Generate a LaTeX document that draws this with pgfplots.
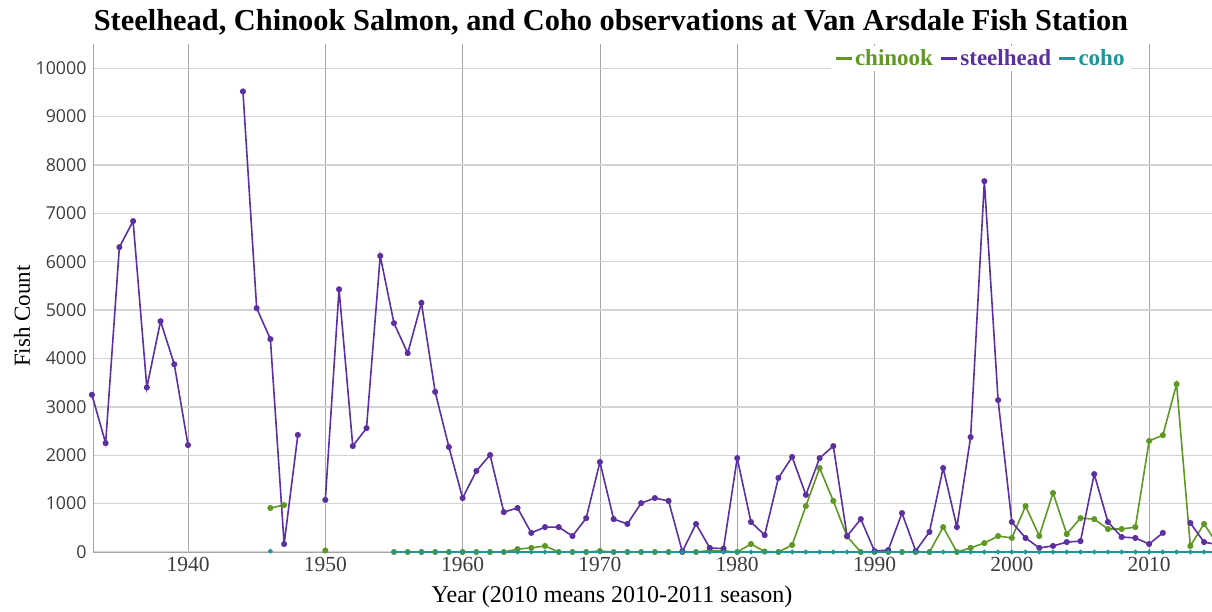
\documentclass[border=0pt]{standalone}
\usepackage{pgfplots}
\pgfplotsset{compat=1.18}
\usepackage{pgfplotstable}
\usepackage{fontspec}
\setmainfont{Liberation Serif}
\newfontfamily\opensans{Open Sans}
\definecolor{chin}{RGB}{96,152,36}
\definecolor{steel}{RGB}{92,48,160}
\definecolor{coho}{RGB}{28,150,150}
\definecolor{gridh}{RGB}{212,212,212}
\definecolor{gridv}{RGB}{165,165,165}
\definecolor{ticktxt}{RGB}{60,60,60}

\pgfplotstableread{
year val
1933 3250
1934 2250
1935 6300
1936 6840
1937 3400
1938 4770
1939 3880
1940 2210
1941 nan
1943 nan
1944 9520
1945 5040
1946 4400
1947 165
1948 2420
1949 nan
1950 1075
1951 5430
1952 2190
1953 2560
1954 6120
1955 4730
1956 4110
1957 5150
1958 3310
1959 2170
1960 1115
1961 1675
1962 2005
1963 825
1964 910
1965 395
1966 515
1967 515
1968 330
1969 700
1970 1860
1971 680
1972 580
1973 1010
1974 1115
1975 1055
1976 10
1977 580
1978 85
1979 70
1980 1940
1981 620
1982 350
1983 1530
1984 1965
1985 1180
1986 1940
1987 2190
1988 330
1989 680
1990 20
1991 40
1992 805
1993 20
1994 415
1995 1735
1996 515
1997 2375
1998 7665
1999 3140
2000 620
2001 290
2002 85
2003 125
2004 205
2005 225
2006 1610
2007 620
2008 310
2009 290
2010 165
2011 395
2012 nan
2013 600
2014 205
2015 150
}\steelhead

\pgfplotstableread{
year val
1946 910
1947 970
1948 nan
1950 30
1951 nan
1955 0
1956 0
1957 0
1958 0
1959 0
1960 0
1961 0
1962 0
1963 0
1964 60
1965 85
1966 125
1967 0
1968 0
1969 0
1970 20
1971 0
1972 0
1973 0
1974 0
1975 0
1976 0
1977 0
1978 30
1979 20
1980 0
1981 165
1982 10
1983 0
1984 145
1985 950
1986 1735
1987 1055
1988 320
1989 0
1990 0
1991 0
1992 0
1993 0
1994 0
1995 515
1996 0
1997 85
1998 185
1999 330
2000 290
2001 950
2002 330
2003 1220
2004 370
2005 700
2006 680
2007 475
2008 475
2009 515
2010 2295
2011 2415
2012 3470
2013 125
2014 580
2015 150
}\chinook

\pgfplotstableread{
year val
1946 20
1947 nan
1955 0
1956 0
1957 0
1958 0
1959 0
1960 0
1961 0
1962 0
1963 0
1964 0
1965 0
1966 0
1967 0
1968 0
1969 0
1970 0
1971 0
1972 0
1973 0
1974 0
1975 0
1976 0
1977 0
1978 0
1979 0
1980 0
1981 0
1982 0
1983 0
1984 0
1985 0
1986 0
1987 0
1988 0
1989 0
1990 0
1991 0
1992 0
1993 0
1994 0
1995 0
1996 0
1997 0
1998 0
1999 0
2000 0
2001 0
2002 0
2003 0
2004 0
2005 0
2006 0
2007 0
2008 0
2009 0
2010 0
2011 0
2012 0
2013 0
2014 0
2015 0
}\coho

\begin{document}
\begin{tikzpicture}[x=1pt,y=1pt]
\useasboundingbox (0,0) rectangle (1212,611);
\begin{axis}[
  at={(93pt,59pt)}, anchor=south west,
  scale only axis, width=1119pt, height=508pt,
  xmin=1933.08, xmax=2014.58, ymin=0, ymax=10500,
  xtick={1940,1950,...,2010},
  ytick={0,1000,...,10000},
  scaled y ticks=false,
  clip=false,
  unbounded coords=jump,
  axis x line=bottom, axis y line=left,
  axis line style={draw=gridv, -, line width=0.8pt},
  major tick length=0pt,
  xmajorgrids, ymajorgrids,
  x grid style={draw=gridv, line width=0.8pt},
  y grid style={draw=gridh, line width=1.3pt},
  /pgf/number format/assume math mode=true,
  /pgf/number format/1000 sep={},
  xticklabel style={font=\fontsize{21.5}{21.5}\selectfont, text=ticktxt, yshift=-2pt},
  yticklabel style={font=\opensans\fontsize{17.8}{17.8}\selectfont, text=ticktxt, xshift=-3pt},
  legend columns=3,
  legend style={at={(rel axis cs:0.659,0.997)}, anchor=north west, draw=none, fill=white,
     font=\bfseries\fontsize{23}{23}\selectfont, inner xsep=4pt, inner ysep=2pt,
     /tikz/every even column/.append style={column sep=5pt}},
  legend image code/.code={\draw[#1, line width=2.4pt] (0pt,0pt) -- (16pt,0pt);},
  every axis plot/.append style={line width=1.6pt, mark=*, mark size=2.2pt},
]
\addplot[chin, mark options={fill=chin, draw=chin}] table[x=year, y=val] {\chinook};
\addlegendentry{\textcolor{chin}{chinook}}
\addplot[steel, mark options={fill=steel, draw=steel}] table[x=year, y=val] {\steelhead};
\addlegendentry{\textcolor{steel}{steelhead}}
\addplot[coho, mark options={fill=coho, draw=coho}, mark size=1.5pt] table[x=year, y=val] {\coho};
\addlegendentry{\textcolor{coho}{coho}}
\end{axis}
\node[anchor=base, font=\bfseries\fontsize{30.4}{30.4}\selectfont] at (611,580) {Steelhead, Chinook Salmon, and Coho observations at Van Arsdale Fish Station};
\node[anchor=center, font=\fontsize{24}{24}\selectfont] at (612,14) {Year (2010 means 2010-2011 season)};
\node[anchor=center, rotate=90, font=\fontsize{23}{23}\selectfont] at (22,295) {Fish Count};
\end{tikzpicture}
\end{document}
